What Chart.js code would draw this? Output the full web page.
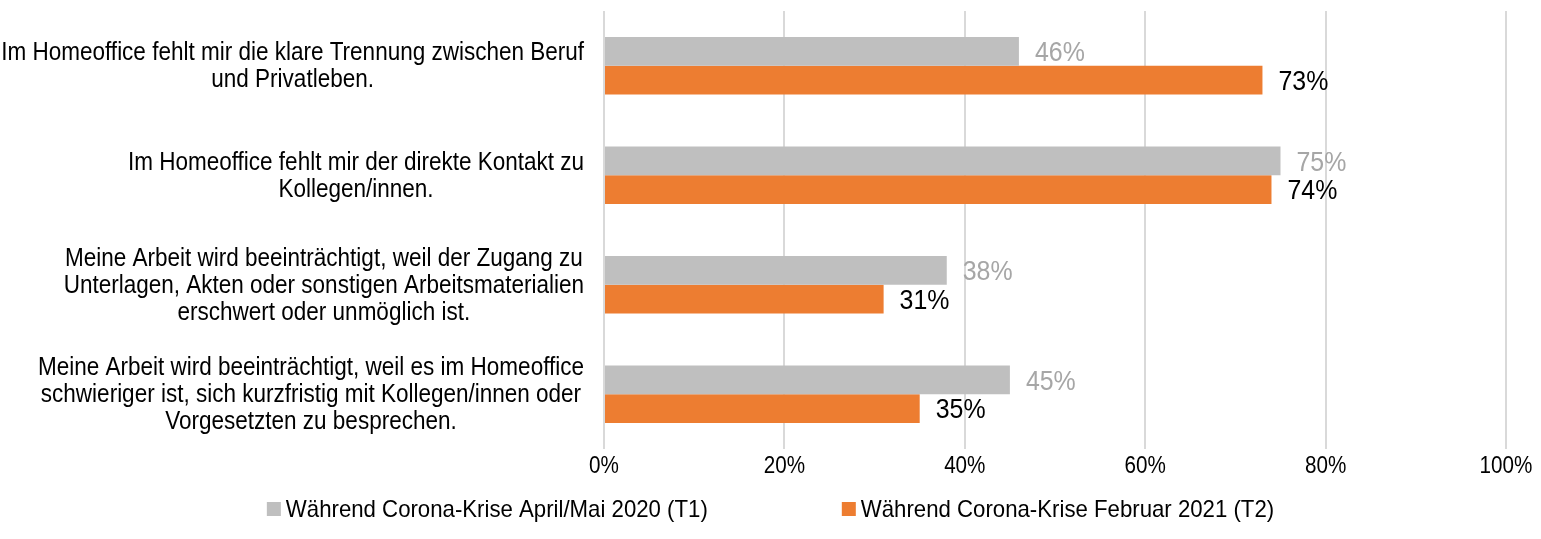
<!DOCTYPE html>
<html>
<head>
<meta charset="utf-8">
<script src="https://cdn.jsdelivr.net/npm/chart.js@4.4.1/dist/chart.umd.min.js"></script>
<style>
  html, body { margin: 0; padding: 0; background: #fff; }
</style>
</head>
<body>
<canvas id="chart" width="1541" height="539"></canvas>
<script>
// categories (each one a list of lines, as wrapped in the original)
const categories = [
  ["Im Homeoffice fehlt mir die klare Trennung zwischen Beruf", "und Privatleben."],
  ["Im Homeoffice fehlt mir der direkte Kontakt zu", "Kollegen/innen."],
  ["Meine Arbeit wird beeinträchtigt, weil der Zugang zu", "Unterlagen, Akten oder sonstigen Arbeitsmaterialien", "erschwert oder unmöglich ist."],
  ["Meine Arbeit wird beeinträchtigt, weil es im Homeoffice", "schwieriger ist, sich kurzfristig mit Kollegen/innen oder", "Vorgesetzten zu besprechen."]
];
const seriesNames = ["Während Corona-Krise April/Mai 2020 (T1)", "Während Corona-Krise Februar 2021 (T2)"];
const valuesT1 = [46, 75, 38, 45];
const valuesT2 = [73, 74, 31, 35];
const xTicks = [0, 20, 40, 60, 80, 100];

const colorT1 = "#bfbfbf";
const colorT2 = "#ed7d31";
const labelColors = ["#a6a6a6", "#000000"];

//no narrow font installed, so squeeze Liberation Sans horizontally
const FONT = '"Liberation Sans", Arial, sans-serif';
const styles = {
  cat:    { size: 25, sx: 0.9 },
  tick:   { size: 24, sx: 0.86 },
  value:  { size: 28, sx: 0.89 },
  legend: { size: 24, sx: 0.925 }
};
const LINE_H = 27;

function setFont(ctx, st) {
  ctx.font = st.size + "px " + FONT;
}

function squeezedText(ctx, text, x, y, align, sx) {
  ctx.save();
  ctx.translate(x, y);
  ctx.scale(sx, 1);
  ctx.textAlign = align;
  ctx.fillText(text, 0, 0);
  ctx.restore();
}

//labels on bars, category texts, tick texts and legend
const drawPlugin = {
  id: "drawExtras",
  afterDatasetsDraw(chart) {
    const ctx = chart.ctx;
    ctx.save();
    ctx.textBaseline = "middle";

    //value labels
    setFont(ctx, styles.value);
    chart.data.datasets.forEach((ds, di) => {
      const meta = chart.getDatasetMeta(di);
      meta.data.forEach((bar, i) => {
        ctx.fillStyle = labelColors[di];
        squeezedText(ctx, ds.data[i] + "%", bar.x + 16, bar.y + 2, "left", styles.value.sx);
      });
    });

    //category labels, block right aligned, lines centered
    const yScale = chart.scales.y;
    const right = chart.chartArea.left - 20;
    setFont(ctx, styles.cat);
    ctx.fillStyle = "#000";
    chart.data.labels.forEach((lines, i) => {
      const yc = yScale.getPixelForValue(i);
      const maxW = Math.max(...lines.map(l => ctx.measureText(l).width)) * styles.cat.sx;
      const cx = right - maxW / 2;
      const top = yc - (lines.length - 1) * LINE_H / 2;
      lines.forEach((l, n) => squeezedText(ctx, l, cx, top + n * LINE_H + 1, "center", styles.cat.sx));
    });

    //x tick labels
    const xScale = chart.scales.x;
    setFont(ctx, styles.tick);
    xTicks.forEach(v => {
      squeezedText(ctx, v + "%", xScale.getPixelForValue(v), chart.chartArea.bottom + 17, "center", styles.tick.sx);
    });

    //legend
    setFont(ctx, styles.legend);
    const box = 14, gapText = 5, gapItem = 134;
    const items = chart.data.datasets.map(ds => ({
      text: ds.label,
      color: ds.backgroundColor,
      w: box + gapText + ctx.measureText(ds.label).width * styles.legend.sx
    }));
    const total = items.reduce((s, it) => s + it.w, 0) + gapItem * (items.length - 1);
    let x = chart.width / 2 - total / 2;
    const ly = chart.height - 30;
    items.forEach(it => {
      ctx.fillStyle = it.color;
      ctx.fillRect(x, ly - box / 2, box, box);
      ctx.fillStyle = "#000";
      squeezedText(ctx, it.text, x + box + gapText, ly + 1, "left", styles.legend.sx);
      x += it.w + gapItem;
    });

    ctx.restore();
  }
};

let ctx = document.getElementById("chart").getContext("2d");

let chart = new Chart(ctx, {
  type: "bar",
  data: {
    labels: categories,
    datasets: [
      { label: seriesNames[0], data: valuesT1, backgroundColor: colorT1 },
      { label: seriesNames[1], data: valuesT2, backgroundColor: colorT2 }
    ]
  },
  options: {
    indexAxis: "y",
    responsive: false,
    animation: false,
    categoryPercentage: 0.524,
    barPercentage: 1,
    layout: { padding: { left: 604, right: 35, top: 11, bottom: 52 } },
    plugins: {
      legend: { display: false },
      tooltip: { enabled: false }
    },
    scales: {
      y: { display: false },
      x: {
        min: xTicks[0],
        max: xTicks[xTicks.length - 1],
        afterBuildTicks(scale) {
          scale.ticks = xTicks.map(v => ({ value: v }));
        },
        border: { display: false },
        grid: { color: "#d9d9d9", lineWidth: 2, drawTicks: false },
        ticks: {
          padding: 7,
          color: "rgba(0,0,0,0)",
          font: { family: FONT, size: 20 },
          callback: v => v + "%"
        }
      }
    }
  },
  plugins: [drawPlugin]
});
</script>
</body>
</html>
